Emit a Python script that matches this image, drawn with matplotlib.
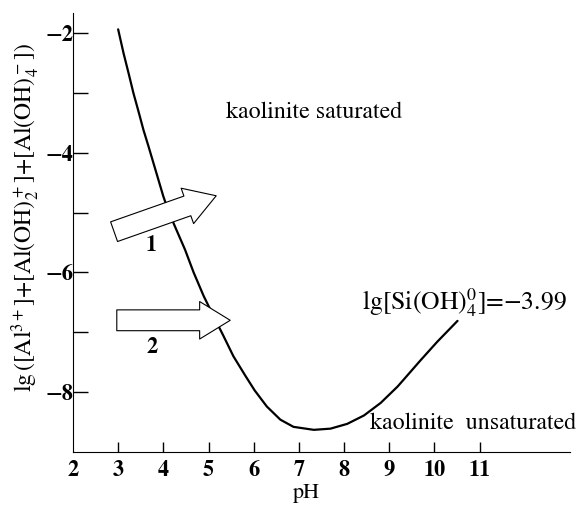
import matplotlib
matplotlib.use("Agg")
import matplotlib.pyplot as plt
import matplotlib.transforms as mtransforms

plt.rcParams['font.family'] = ['STIXGeneral', 'DejaVu Serif']
plt.rcParams['mathtext.fontset'] = 'stix'

# Curve
ph = [3.00, 3.12, 3.23, 3.34, 3.45, 3.56, 3.67, 3.78, 3.89, 4.00, 4.11, 4.25,
      4.48, 4.67, 4.89, 5.11, 5.33, 5.55, 5.81, 6.02, 6.29, 6.59, 6.88, 7.33,
      7.70, 8.07, 8.44, 8.81, 9.18, 9.32, 9.69, 10.06, 10.51]
lg_al = [-1.94, -2.34, -2.67, -3.01, -3.31, -3.62, -3.89, -4.17, -4.45, -4.73, -4.97, -5.22,
         -5.62, -6.00, -6.39, -6.73, -7.06, -7.40, -7.72, -7.97, -8.24, -8.46, -8.58, -8.63,
         -8.61, -8.53, -8.39, -8.18, -7.91, -7.79, -7.47, -7.16, -6.81]

x_ticks = [3, 4, 5, 6, 7, 8, 9, 10, 11]
x_ticklabels = ['3', '4', '5', '6', '7', '8', '9', '10', '11']
y_major = [-2, -4, -6, -8]
y_ticklabels = ['\u22122', '\u22124', '\u22126', '\u22128']
y_minor = [-3, -5, -7]

# Arrows (tail -> tip) and their labels
arrow1_tail = (2.91, -5.32)
arrow1_tip = (5.17, -4.72)
arrow2_tail = (2.97, -6.80)
arrow2_tip = (5.48, -6.80)
label1_pos = (3.74, -5.55)
label2_pos = (3.76, -7.25)

fig = plt.figure(figsize=(5.79, 5.07), dpi=100)
ax = fig.add_axes([0.126, 0.1085, 0.8585, 0.8655])
ax.plot(ph, lg_al, color='black', lw=1.6, solid_joinstyle='round', solid_capstyle='round')

ax.set_xlim(2, 13)
ax.set_ylim(-9, -1.67)
ax.spines['top'].set_visible(False)
ax.spines['right'].set_visible(False)
ax.set_xticks(x_ticks)
ax.set_xticklabels(x_ticklabels, fontweight='bold', fontsize=16)
ax.set_yticks(y_major)
ax.set_yticklabels(y_ticklabels, fontweight='bold', fontsize=16)
ax.set_yticks(y_minor, minor=True)
ax.tick_params(axis='x', direction='in', length=7, width=1, pad=6)
ax.tick_params(axis='y', which='both', direction='in', length=11, width=1, pad=0)

# "2" at the origin corner
ax.text(2, -9, '2', fontsize=16, fontweight='bold', ha='center', va='top',
        transform=ax.transData + mtransforms.ScaledTranslation(0, -6/72, fig.dpi_scale_trans))

ax.set_xlabel('pH', fontsize=16)
ax.xaxis.label.set_va('center')
ax.xaxis.set_label_coords(0.469, -0.093)
ax.set_ylabel(r'lg$\,$([Al$^{3+}$]+[Al(OH)$_2^+$]+[Al(OH)$_4^-$])', fontsize=17)
ax.yaxis.label.set_va('center')
ax.yaxis.set_label_coords(-0.095, 0.535)

for tail, tip in [(arrow1_tail, arrow1_tip), (arrow2_tail, arrow2_tip)]:
    ax.annotate('', xy=tip, xytext=tail,
                arrowprops=dict(arrowstyle='simple,head_length=2.2,head_width=2.7,tail_width=1.5',
                                fc='white', ec='black', lw=0.8, shrinkA=0, shrinkB=0,
                                mutation_scale=10))

ax.text(*label1_pos, '1', fontsize=16, fontweight='bold', ha='center', va='center')
ax.text(*label2_pos, '2', fontsize=16, fontweight='bold', ha='center', va='center')

ax.text(7.34, -3.32, 'kaolinite saturated', fontsize=17.2, ha='center', va='center')
ax.text(10.85, -8.52, 'kaolinite  unsaturated', fontsize=17.2, ha='center', va='center', clip_on=False)
ax.text(10.67, -6.50, r'lg[Si(OH)$_4^0$]=$-$3.99', fontsize=18.5, ha='center', va='center', clip_on=False)

fig.savefig('out.png', dpi=100)
